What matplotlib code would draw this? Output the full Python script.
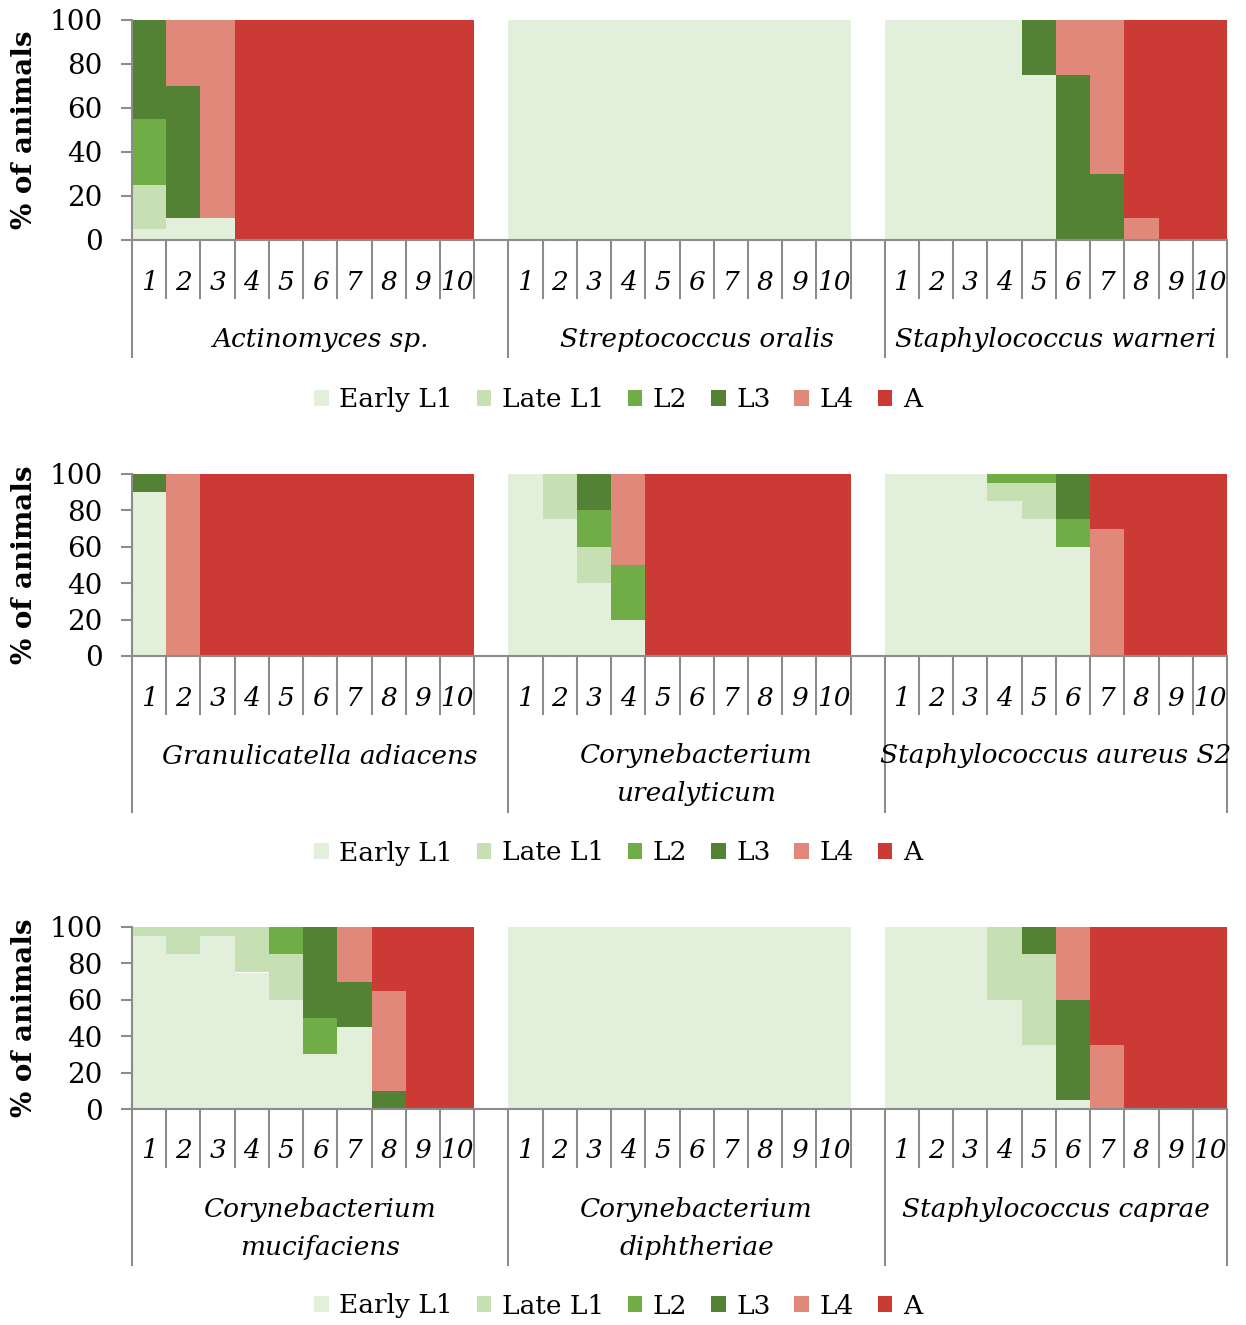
import matplotlib
matplotlib.use("Agg")
import matplotlib.pyplot as plt
from matplotlib.patches import Patch

# Developmental stages (stacked bottom to top) and their colours
stages = ["Early L1", "Late L1", "L2", "L3", "L4", "A"]
stage_colors = ["#E2EFDA", "#C6E0B4", "#70AD47", "#548235", "#E0897B", "#CC3A36"]
days = ["1", "2", "3", "4", "5", "6", "7", "8", "9", "10"]

# Percentage of animals in each stage per day, one table per bacterium
actinomyces = {
    "Early L1": [5, 10, 10, 0, 0, 0, 0, 0, 0, 0],
    "Late L1":  [20, 0, 0, 0, 0, 0, 0, 0, 0, 0],
    "L2":       [30, 0, 0, 0, 0, 0, 0, 0, 0, 0],
    "L3":       [45, 60, 0, 0, 0, 0, 0, 0, 0, 0],
    "L4":       [0, 30, 90, 0, 0, 0, 0, 0, 0, 0],
    "A":        [0, 0, 0, 100, 100, 100, 100, 100, 100, 100],
}
strep_oralis = {
    "Early L1": [100, 100, 100, 100, 100, 100, 100, 100, 100, 100],
    "Late L1":  [0, 0, 0, 0, 0, 0, 0, 0, 0, 0],
    "L2":       [0, 0, 0, 0, 0, 0, 0, 0, 0, 0],
    "L3":       [0, 0, 0, 0, 0, 0, 0, 0, 0, 0],
    "L4":       [0, 0, 0, 0, 0, 0, 0, 0, 0, 0],
    "A":        [0, 0, 0, 0, 0, 0, 0, 0, 0, 0],
}
staph_warneri = {
    "Early L1": [100, 100, 100, 100, 75, 0, 0, 0, 0, 0],
    "Late L1":  [0, 0, 0, 0, 0, 0, 0, 0, 0, 0],
    "L2":       [0, 0, 0, 0, 0, 0, 0, 0, 0, 0],
    "L3":       [0, 0, 0, 0, 25, 75, 30, 0, 0, 0],
    "L4":       [0, 0, 0, 0, 0, 25, 70, 10, 0, 0],
    "A":        [0, 0, 0, 0, 0, 0, 0, 90, 100, 100],
}
granulicatella = {
    "Early L1": [90, 0, 0, 0, 0, 0, 0, 0, 0, 0],
    "Late L1":  [0, 0, 0, 0, 0, 0, 0, 0, 0, 0],
    "L2":       [0, 0, 0, 0, 0, 0, 0, 0, 0, 0],
    "L3":       [10, 0, 0, 0, 0, 0, 0, 0, 0, 0],
    "L4":       [0, 100, 0, 0, 0, 0, 0, 0, 0, 0],
    "A":        [0, 0, 100, 100, 100, 100, 100, 100, 100, 100],
}
coryne_urealyticum = {
    "Early L1": [100, 75, 40, 20, 0, 0, 0, 0, 0, 0],
    "Late L1":  [0, 25, 20, 0, 0, 0, 0, 0, 0, 0],
    "L2":       [0, 0, 20, 30, 0, 0, 0, 0, 0, 0],
    "L3":       [0, 0, 20, 0, 0, 0, 0, 0, 0, 0],
    "L4":       [0, 0, 0, 50, 0, 0, 0, 0, 0, 0],
    "A":        [0, 0, 0, 0, 100, 100, 100, 100, 100, 100],
}
staph_aureus_s2 = {
    "Early L1": [100, 100, 100, 85, 75, 60, 0, 0, 0, 0],
    "Late L1":  [0, 0, 0, 10, 20, 0, 0, 0, 0, 0],
    "L2":       [0, 0, 0, 5, 5, 15, 0, 0, 0, 0],
    "L3":       [0, 0, 0, 0, 0, 25, 0, 0, 0, 0],
    "L4":       [0, 0, 0, 0, 0, 0, 70, 0, 0, 0],
    "A":        [0, 0, 0, 0, 0, 0, 30, 100, 100, 100],
}
coryne_mucifaciens = {
    "Early L1": [95, 85, 95, 75, 60, 30, 45, 0, 0, 0],
    "Late L1":  [5, 15, 5, 25, 25, 0, 0, 0, 0, 0],
    "L2":       [0, 0, 0, 0, 15, 20, 0, 0, 0, 0],
    "L3":       [0, 0, 0, 0, 0, 50, 25, 10, 0, 0],
    "L4":       [0, 0, 0, 0, 0, 0, 30, 55, 0, 0],
    "A":        [0, 0, 0, 0, 0, 0, 0, 35, 100, 100],
}
coryne_diphtheriae = {
    "Early L1": [100, 100, 100, 100, 100, 100, 100, 100, 100, 100],
    "Late L1":  [0, 0, 0, 0, 0, 0, 0, 0, 0, 0],
    "L2":       [0, 0, 0, 0, 0, 0, 0, 0, 0, 0],
    "L3":       [0, 0, 0, 0, 0, 0, 0, 0, 0, 0],
    "L4":       [0, 0, 0, 0, 0, 0, 0, 0, 0, 0],
    "A":        [0, 0, 0, 0, 0, 0, 0, 0, 0, 0],
}
staph_caprae = {
    "Early L1": [100, 100, 100, 60, 35, 5, 0, 0, 0, 0],
    "Late L1":  [0, 0, 0, 40, 50, 0, 0, 0, 0, 0],
    "L2":       [0, 0, 0, 0, 0, 0, 0, 0, 0, 0],
    "L3":       [0, 0, 0, 0, 15, 55, 0, 0, 0, 0],
    "L4":       [0, 0, 0, 0, 0, 40, 35, 0, 0, 0],
    "A":        [0, 0, 0, 0, 0, 0, 65, 100, 100, 100],
}

rows = [
    [("Actinomyces sp.", actinomyces),
     ("Streptococcus oralis", strep_oralis),
     ("Staphylococcus warneri", staph_warneri)],
    [("Granulicatella adiacens", granulicatella),
     ("Corynebacterium\nurealyticum", coryne_urealyticum),
     ("Staphylococcus aureus S2", staph_aureus_s2)],
    [("Corynebacterium\nmucifaciens", coryne_mucifaciens),
     ("Corynebacterium\ndiphtheriae", coryne_diphtheriae),
     ("Staphylococcus caprae", staph_caprae)],
]

W, H = 1246, 1325
DPI = 100
PT = 72.0 / DPI  # points per pixel

FS = 19
GRAY = "#8C8C8C"

plt.rcParams["font.family"] = ["DejaVu Serif"]
fig = plt.figure(figsize=(W / DPI, H / DPI), dpi=DPI)

# Pixel layout of each row: (axes top, axes bottom, group line length, legend offset)
layout = [
    (20, 240, 118, 160),
    (474, 656, 157, 197),
    (927, 1109, 157, 197),
]
ax_left, ax_right = 132, 1227
SHORT_TICK = 59

for (top, bottom, long_len, leg_off), row in zip(layout, rows):
    ax = fig.add_axes([ax_left / W, 1 - bottom / H,
                       (ax_right - ax_left) / W, (bottom - top) / H])
    ax_h_px = bottom - top
    bounds = []
    start = 0
    for gi, (name, data) in enumerate(row):
        xs = [start + i + 0.5 for i in range(len(days))]
        base = [0.0] * len(days)
        for stage, color in zip(stages, stage_colors):
            vals = data[stage]
            ax.bar(xs, vals, width=1.0, bottom=base, color=color,
                   edgecolor="none", linewidth=0)
            base = [b + v for b, v in zip(base, vals)]
        # day labels
        for x, d in zip(xs, days):
            ax.annotate(d, xy=(x, 0), xycoords=("data", "axes fraction"),
                        xytext=(0, -42 * PT), textcoords="offset points",
                        ha="center", va="center", fontsize=FS, style="italic")
        # bacterium label, one text per line
        cells = len(days) + (1 if gi < len(row) - 1 else 0)
        cx = start + cells / 2.0
        for li, line in enumerate(name.split("\n")):
            ax.annotate(line, xy=(cx, 0), xycoords=("data", "axes fraction"),
                        xytext=(0, (-100 - 38 * li) * PT), textcoords="offset points",
                        ha="center", va="center", fontsize=FS, style="italic")
        for k in range(cells):
            bounds.append((start + k, long_len if k == 0 else SHORT_TICK))
        start += cells
    bounds.append((start, long_len))
    total = start

    # category divider lines below the axis
    for xb, length in bounds:
        ax.plot([xb, xb], [0, -length / ax_h_px], color=GRAY, lw=1.5,
                transform=ax.get_xaxis_transform(), clip_on=False,
                solid_capstyle="butt")

    ax.set_xlim(0, total)
    ax.set_ylim(0, 100)
    ax.set_yticks([0, 20, 40, 60, 80, 100])
    ax.set_xticks([])
    ax.tick_params(axis="y", direction="out", length=8, width=1.5, color=GRAY,
                   pad=13, labelsize=20)
    for sp in ("top", "right"):
        ax.spines[sp].set_visible(False)
    for sp in ("left", "bottom"):
        ax.spines[sp].set_color(GRAY)
        ax.spines[sp].set_linewidth(1.5)

    fig.text(25 / W, 1 - ((top + bottom) / 2) / H, "% of animals", rotation=90,
             ha="center", va="center", fontsize=20, fontweight="bold")

    handles = [Patch(facecolor=c, edgecolor="none") for c in stage_colors]
    fig.legend(handles, stages, loc="center", ncol=6, frameon=False,
               bbox_to_anchor=(618 / W, 1 - (bottom + leg_off) / H),
               fontsize=FS, handlelength=0.55, handleheight=0.55,
               handletextpad=0.4, columnspacing=0.9, borderaxespad=0)

fig.savefig("out.png", dpi=DPI)
